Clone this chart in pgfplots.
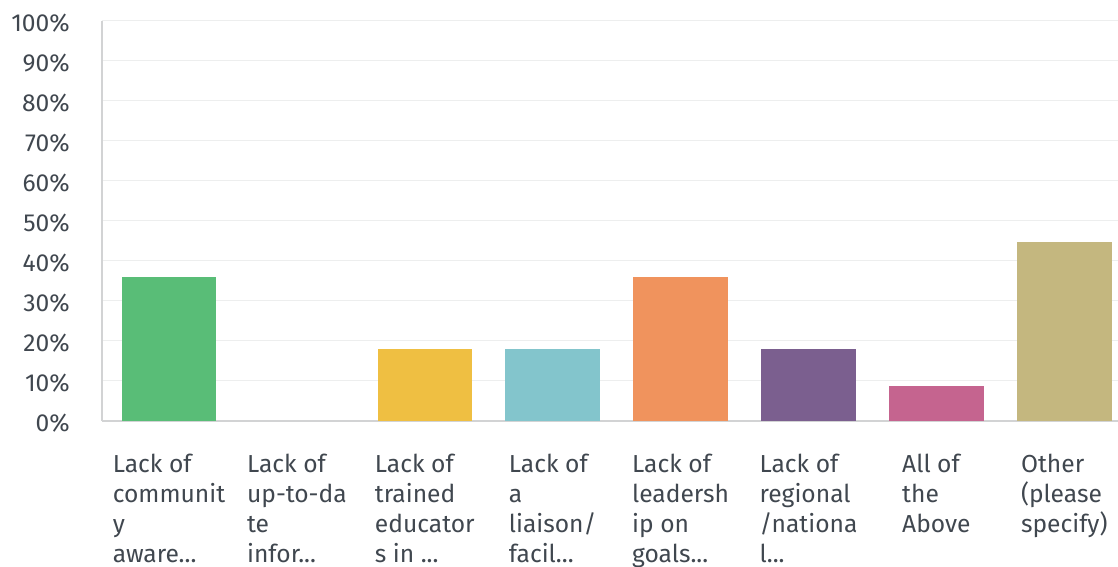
\documentclass[border=0pt]{standalone}
\usepackage{fontspec}
\setmainfont{Fira Sans}
\usepackage{pgfplots}
\pgfplotsset{compat=1.18}
\definecolor{txt}{HTML}{40474F}
\definecolor{gridc}{HTML}{EDEEEE}
\definecolor{axc}{HTML}{D2D3D4}
\definecolor{c1}{HTML}{59BD77}
\definecolor{c3}{HTML}{EFBF42}
\definecolor{c4}{HTML}{83C5CC}
\definecolor{c5}{HTML}{F0935D}
\definecolor{c6}{HTML}{7B5F8F}
\definecolor{c7}{HTML}{C5648F}
\definecolor{c8}{HTML}{C4B77F}
\newcommand{\dd}{{.}{.}{.}}
\begin{document}
\begin{tikzpicture}
\useasboundingbox (0,0) rectangle (559pt,283.5pt);
\begin{axis}[
  at={(50.85pt,73.15pt)}, anchor=south west,
  scale only axis, width=508.15pt, height=200pt,
  xmin=-0.526, xmax=7.42, ymin=0, ymax=100,
  axis x line*=bottom, axis y line*=left,
  axis line style={draw=axc, line width=1pt, -},
  ymajorgrids, grid style={draw=gridc, line width=0.7pt},
  major tick length=0pt,
  ytick={0,10,20,30,40,50,60,70,80,90,100},
  yticklabels={0\%,10\%,20\%,30\%,40\%,50\%,60\%,70\%,80\%,90\%,100\%},
  xtick={0,1,2,3,4,5,6,7},
  xticklabels={{Lack of\\communit\\y\\aware\dd},{Lack of\\up-to-da\\te\\infor\dd},{Lack of\\trained\\educator\\s in \dd},{Lack of\\a\\liaison/\\facil\dd},{Lack of\\leadersh\\ip on\\goals\dd},{Lack of\\regional\\/nationa\\l\dd},{All of\\the\\Above},{Other\\(please\\specify)}},
  every tick label/.append style={font=\fontsize{12.3}{15}\selectfont, text=txt, inner sep=0pt},
  xticklabel style={align=left, anchor=north, yshift=-16.3pt},
  yticklabel style={anchor=east, xshift=-15.8pt, yshift=-1.2pt},
  clip=false,
]
\addplot[ybar, bar shift=0pt, bar width=0.739, fill=c1, draw=none] coordinates {(0,36.0)};
\addplot[ybar, bar shift=0pt, bar width=0.739, fill=none, draw=none] coordinates {(1,0)};
\addplot[ybar, bar shift=0pt, bar width=0.739, fill=c3, draw=none] coordinates {(2,17.9)};
\addplot[ybar, bar shift=0pt, bar width=0.739, fill=c4, draw=none] coordinates {(3,17.9)};
\addplot[ybar, bar shift=0pt, bar width=0.739, fill=c5, draw=none] coordinates {(4,36.0)};
\addplot[ybar, bar shift=0pt, bar width=0.739, fill=c6, draw=none] coordinates {(5,17.9)};
\addplot[ybar, bar shift=0pt, bar width=0.739, fill=c7, draw=none] coordinates {(6,8.75)};
\addplot[ybar, bar shift=0pt, bar width=0.739, fill=c8, draw=none] coordinates {(7,44.75)};
\end{axis}
\end{tikzpicture}
\end{document}
